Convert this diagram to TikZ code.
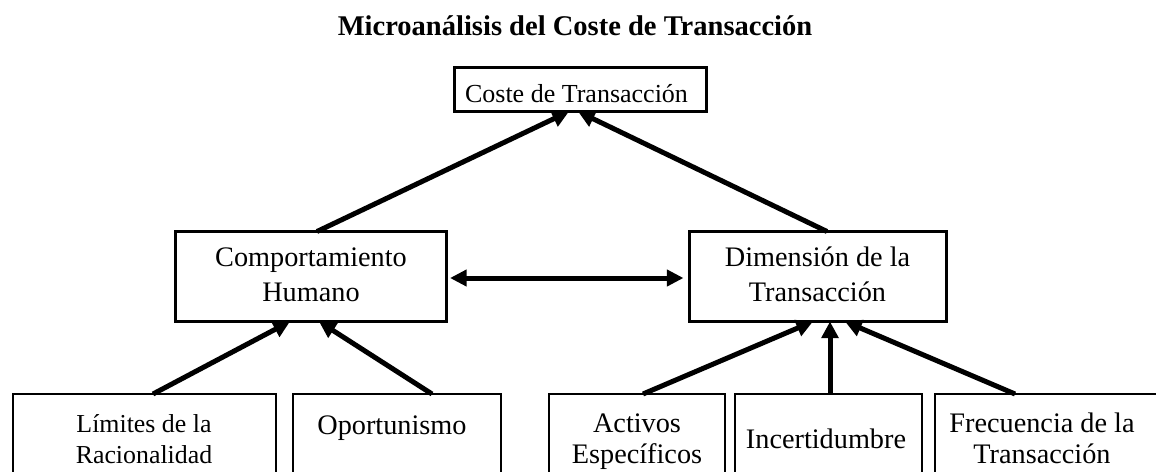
\documentclass[tikz,border=0pt]{standalone}
\usepackage{fontspec}
\setmainfont{Liberation Serif}
\usetikzlibrary{arrows.meta,calc}
\begin{document}
\begin{tikzpicture}[x=0.75pt,y=-0.75pt,
  bigbox/.style={draw,line width=2.25pt,outer sep=0pt,inner sep=0pt},
  lowbox/.style={draw,line width=1.5pt,outer sep=0pt,inner sep=0pt,anchor=north,minimum height=72pt},
  lbl/.style={anchor=base,align=center,inner sep=0pt,outer sep=0pt},
  titlef/.style={font=\fontsize{21.4pt}{26pt}\selectfont\bfseries},
  topf/.style={font=\fontsize{19.5pt}{24pt}\selectfont},
  midf/.style={font=\fontsize{21.2pt}{26.25pt}\selectfont},
  lowf/.style={font=\fontsize{21.2pt}{23pt}\selectfont},
  lowsf/.style={font=\fontsize{19.4pt}{23.25pt}\selectfont},
  conn/.style={line width=3.75pt,-{Triangle[length=12.5pt,width=12.5pt]}},
  dconn/.style={line width=3.75pt,{Triangle[length=12.5pt,width=12pt]}-{Triangle[length=12.5pt,width=12pt]}}]
\useasboundingbox (0,0) rectangle (1156,471);
\clip (0,0) rectangle (1156,471);

\node[lbl,titlef] (title) at (575,35) {Microanálisis del Coste de Transacción};

% boxes
\node[bigbox,minimum width=189pt,minimum height=33pt] (top) at (580.5,89.5) {};
\node[bigbox,minimum width=203.25pt,minimum height=67.5pt] (cm) at (311,276.5) {};
\node[bigbox,minimum width=192.75pt,minimum height=67.5pt] (dt) at (818,276.5) {};
\node[lowbox,minimum width=197.25pt] (b1) at (144.5,394) {};
\node[lowbox,minimum width=156pt] (b2) at (397,394) {};
\node[lowbox,minimum width=132pt] (b3) at (637,394) {};
\node[lowbox,minimum width=140.25pt] (b4) at (828.5,394) {};
\node[lowbox,minimum width=176.25pt] (b5) at (1052.5,394) {};

% texts (base anchor = baseline of last line)
\node[lbl,topf] (ttop) at (576.5,102) {Coste de Transacción};
\node[lbl,midf] (tcm) at (311,301.7) {Comportamiento\\Humano};
\node[lbl,midf] (tdt) at (817.5,301.7) {Dimensión de la\\Transacción};
\node[lbl,lowsf] (t1) at (144,463) {Límites de la\\Racionalidad};
\node[lbl,lowf] (t2) at (392,434) {Oportunismo};
\node[lbl,lowf] (t3) at (637,463) {Activos\\Específicos};
\node[lbl,lowf] (t4) at (826,448) {Incertidumbre};
\node[lbl,lowf] (t5) at (1042,463) {Frecuencia de la\\Transacción};

% connectors
\draw[conn] ($(cm.north)+(6,0)$) -- ($(top.south)+(-11.5,0)$);
\draw[conn] ($(dt.north)+(9,0)$) -- ($(top.south)+(-2.5,0)$);
\draw[dconn] ($(cm.east)+(3.5,1.5)$) -- ($(dt.west)+(-6,1.5)$);
\draw[conn] ($(b1.north)+(8.5,0)$) -- ($(cm.south)+(-21,0)$);
\draw[conn] ($(b2.north)+(35,0)$) -- ($(cm.south)+(8,0)$);
\draw[conn] ($(b3.north)+(6,0)$) -- ($(dt.south)+(-5,0)$);
\draw[conn] ($(b4.north)+(1.5,0)$) -- ($(dt.south)+(12,0)$);
\draw[conn] ($(b5.north)+(-37.5,0)$) -- ($(dt.south)+(27,0)$);
\end{tikzpicture}
\end{document}
